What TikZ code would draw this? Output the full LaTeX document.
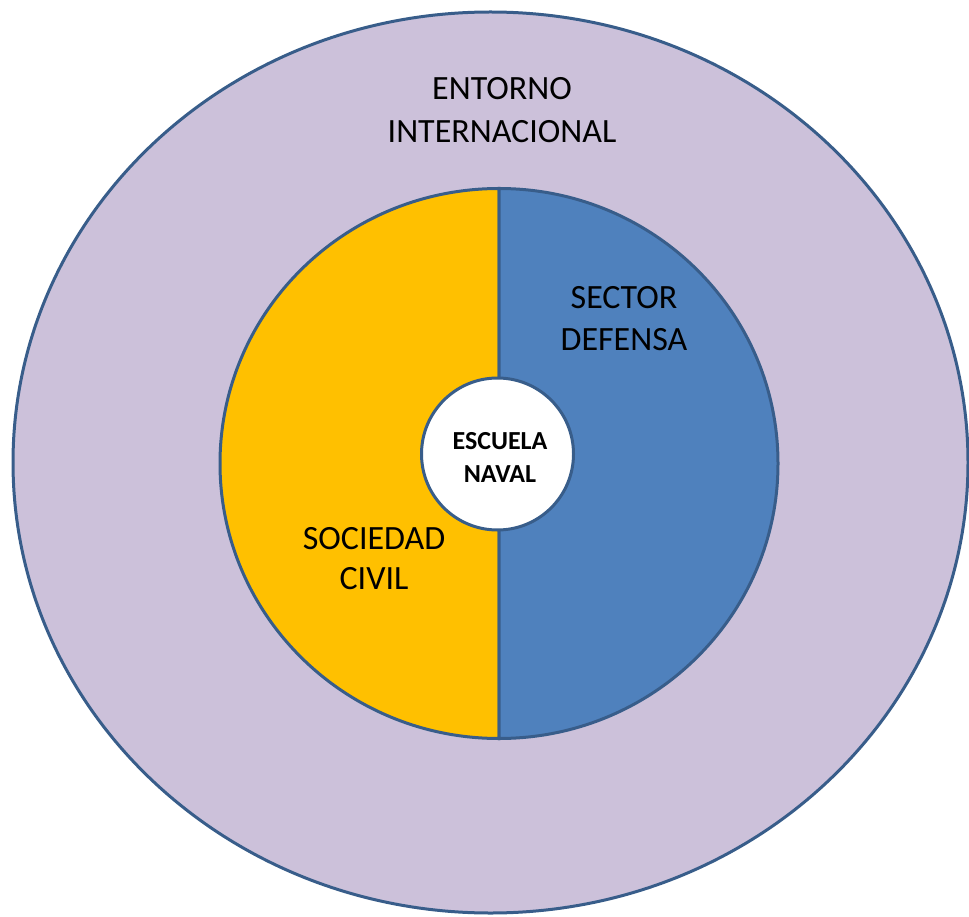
\documentclass[tikz,border=0pt]{standalone}
\usepackage{fontspec}
\setmainfont{Carlito}
\usetikzlibrary{shapes.geometric}
\definecolor{outerfill}{HTML}{CCC1DA}
\definecolor{civilfill}{HTML}{FFC000}
\definecolor{defensafill}{HTML}{4F81BD}
\definecolor{rim}{HTML}{385D8A}
\tikzset{
  ring/.style={draw=rim, line width=3pt},
  biglabel/.style={align=center, inner sep=0pt, font=\fontsize{34}{43}\selectfont},
  smalllabel/.style={align=center, inner sep=0pt, font=\fontsize{26}{33}\selectfont\bfseries},
}
\begin{document}
\begin{tikzpicture}[x=1pt,y=1pt]
\useasboundingbox (0,0) rectangle (969,-917);
% outer ring
\node[ring, fill=outerfill, ellipse, minimum width=955pt, minimum height=901pt, inner sep=0pt] (entorno) at (490.5,-462.5) {};
% halves
\path[ring, fill=civilfill] (499,-188.5) arc[start angle=90, end angle=270, x radius=279pt, y radius=275pt] -- cycle;
\path[ring, fill=defensafill] (499,-738.5) arc[start angle=-90, end angle=90, x radius=279pt, y radius=275pt] -- cycle;
% centre
\node[ring, fill=white, circle, minimum size=152pt, inner sep=0pt] (escuela) at (497.5,-454) {};
% labels
\node[biglabel] (entornotxt) at (502,-110.5) {ENTORNO\\INTERNACIONAL};
\node[biglabel, font=\fontsize{34}{42}\selectfont] (defensa) at (624,-318.5) {SECTOR\\DEFENSA};
\node[biglabel, font=\fontsize{34}{40}\selectfont] (civil) at (374,-559) {SOCIEDAD\\CIVIL};
\node[smalllabel] (escuelatxt) at (500,-457.5) {ESCUELA\\NAVAL};
\end{tikzpicture}
\end{document}
